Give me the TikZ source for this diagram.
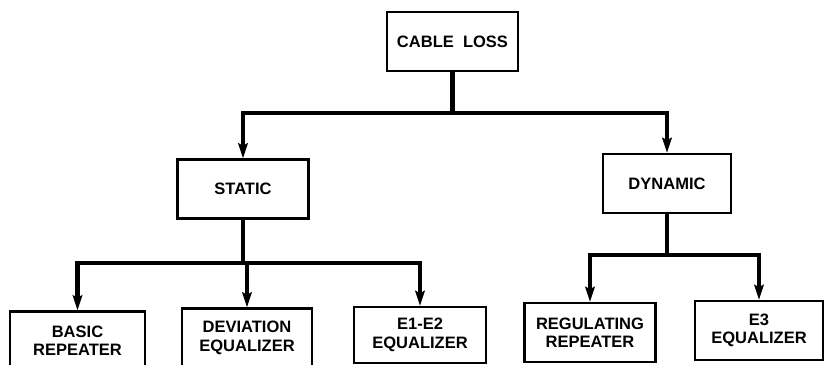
\documentclass[tikz,border=0pt]{standalone}
\usepackage{fontspec}
\setmainfont{Liberation Sans}
\usetikzlibrary{arrows.meta,calc,positioning}

\begin{document}
\begin{tikzpicture}[x=0.02cm,y=-0.02cm,
every node/.style={draw,line width=1.4pt,minimum width=2.62cm,minimum height=1.18cm,inner sep=0pt,align=center,font=\fontsize{9.4}{10.5}\selectfont\bfseries},
link/.style={line width=2.3pt},
arr/.style={line width=2.3pt,-{Stealth[length=0.3cm,width=0.19cm,inset=0.05cm]}}]
\useasboundingbox (0,0) rectangle (825,365);

\node (loss) at (452.5,41.5) {CABLE\ \ LOSS};
\node (static) at (243,189) {STATIC};
\node[minimum width=2.56cm] (dynamic) at (667,183.5) {DYNAMIC};
\node[minimum width=2.7cm] (basic) at (77.5,341) {BASIC\\REPEATER};
\node[minimum width=2.6cm] (deviation) at (247,338) {DEVIATION\\EQUALIZER};
\node[minimum width=2.64cm,minimum height=1.12cm] (eonetwo) at (420,335) {E1-E2\\EQUALIZER};
\node (regulating) at (590,332.5) {REGULATING\\REPEATER};
\node[minimum width=2.56cm] (ethree) at (759,330.5) {E3\\EQUALIZER};

\coordinate (J1) at (loss.south |- 0,113);
\coordinate (J2) at (static.south |- 0,263);
\coordinate (J3) at (dynamic.south |- 0,255);

\draw[link] (loss.south)--(J1);
\draw[arr] (J1) -| (static.north);
\draw[arr] (J1) -| (dynamic.north);

\draw[link] (static.south)--(J2);
\draw[arr] (J2) -| (basic.north);
\draw[arr] (J2) -| (deviation.north);
\draw[arr] (J2) -| (eonetwo.north);

\draw[link] (dynamic.south)--(J3);
\draw[arr] (J3) -| (regulating.north);
\draw[arr] (J3) -| (ethree.north);

\end{tikzpicture}
\end{document}
